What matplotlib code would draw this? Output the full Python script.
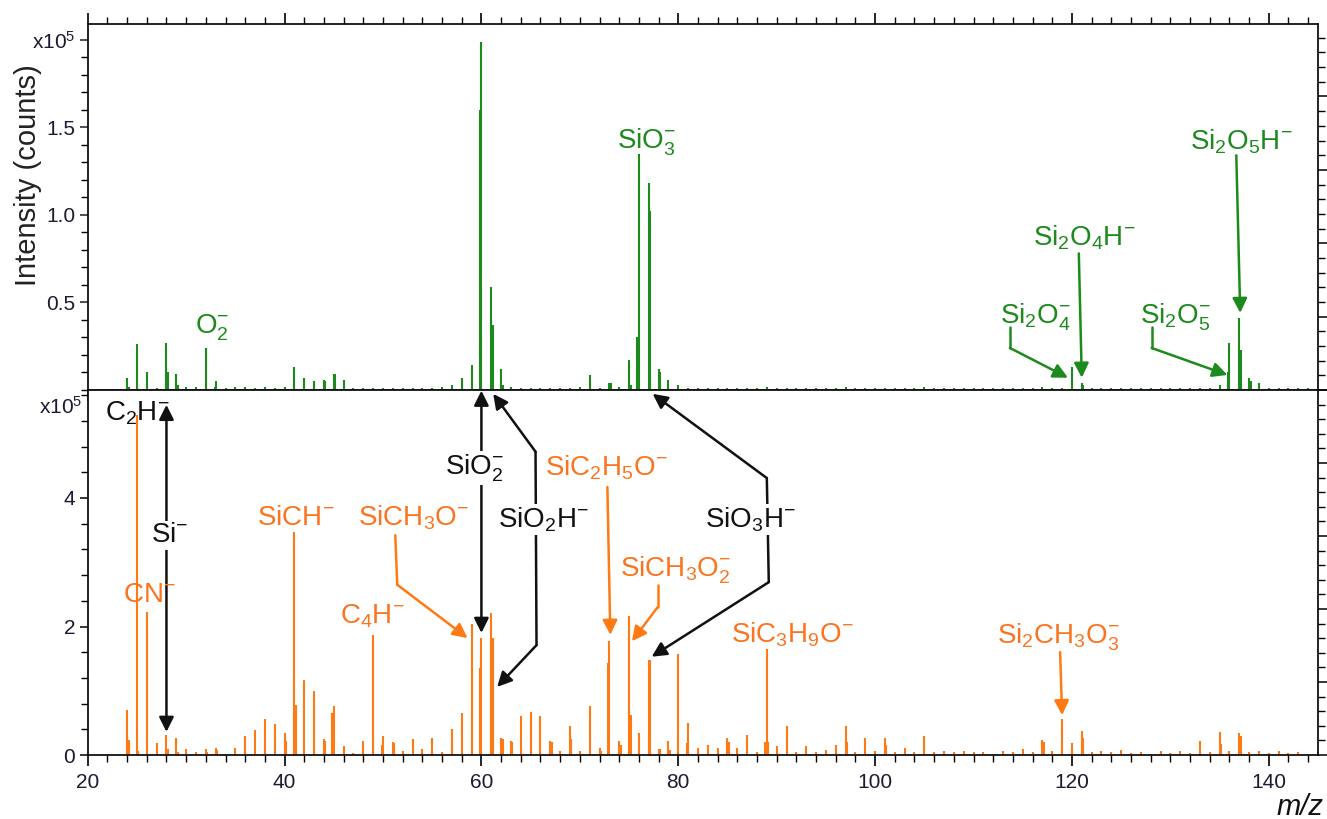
import matplotlib
matplotlib.use("Agg")
import matplotlib.pyplot as plt
from matplotlib.ticker import MultipleLocator, FixedLocator

plt.rcParams['font.family'] = ['Liberation Sans', 'DejaVu Sans']
plt.rcParams['mathtext.fontset'] = 'custom'
plt.rcParams['mathtext.rm'] = 'Liberation Sans'
plt.rcParams['mathtext.it'] = 'Liberation Sans:italic'
plt.rcParams['mathtext.bf'] = 'Liberation Sans:bold'

# ---------------- data (intensity in units of 1e5 counts) ----------------
top_mz = [24, 24.2, 25, 26, 27, 28, 28.15, 29, 29.15, 30, 31, 32, 32.9, 33, 34, 35, 36, 37, 38, 39, 40,
          41, 42, 43, 44, 44.15, 45, 45.15, 46, 47, 48, 49, 50, 51, 52, 53, 54, 55, 56, 57, 58, 59,
          59.85, 60, 61, 61.15, 62, 62.15, 63, 64, 65, 66, 67, 68, 69, 70, 71, 72, 73, 73.15, 74,
          75, 75.15, 75.85, 76, 77, 77.15, 78, 78.15, 79, 80,
          81, 82, 83, 84, 85, 86, 87, 88, 89, 90, 91, 92, 93, 94, 95, 96, 97, 98, 99, 100,
          101, 102, 103, 104, 105, 106, 107, 108, 109, 110, 111, 112, 113, 114, 115, 116, 117,
          118, 119, 120, 121, 121.15, 122, 123, 124, 125, 126, 127, 128, 129, 130, 131, 132, 133, 134,
          135, 135.85, 136, 137, 137.15, 138, 138.15, 139, 140, 141, 142, 143, 144]
top_int = [0.07, 0.02, 0.26, 0.10, 0.01, 0.27, 0.10, 0.09, 0.03, 0.02, 0.02, 0.24, 0.02, 0.05, 0.01, 0.02, 0.02, 0.01, 0.02, 0.01, 0.02,
           0.13, 0.07, 0.05, 0.06, 0.05, 0.09, 0.09, 0.06, 0.01, 0.01, 0.01, 0.01, 0.01, 0.01, 0.01, 0.01, 0.01, 0.02, 0.03, 0.07, 0.14,
           1.60, 1.99, 0.59, 0.37, 0.12, 0.03, 0.02, 0.01, 0.01, 0.01, 0.01, 0.01, 0.01, 0.02, 0.085, 0.01, 0.04, 0.04, 0.02,
           0.17, 0.03, 0.30, 1.35, 1.18, 1.02, 0.12, 0.10, 0.06, 0.03,
           0.01, 0.01, 0.01, 0.01, 0.01, 0.01, 0.01, 0.01, 0.015, 0.01, 0.01, 0.01, 0.01, 0.01, 0.01, 0.01, 0.015, 0.01, 0.01, 0.01,
           0.01, 0.01, 0.01, 0.01, 0.015, 0.01, 0.01, 0.01, 0.01, 0.01, 0.01, 0.01, 0.01, 0.01, 0.01, 0.01, 0.02,
           0.01, 0.01, 0.13, 0.04, 0.03, 0.01, 0.01, 0.01, 0.01, 0.01, 0.01, 0.01, 0.01, 0.01, 0.01, 0.01, 0.01, 0.01,
           0.03, 0.10, 0.27, 0.41, 0.23, 0.07, 0.05, 0.04, 0.01, 0.01, 0.01, 0.01, 0.01]

bot_mz = [24, 24.15, 25, 25.15, 26, 27, 28, 28.15, 29, 29.15, 30, 31, 32, 32.15, 33, 33.15, 34, 35, 36, 37, 38, 39,
          40, 40.15, 41, 41.15, 42, 43, 44, 44.15, 44.85, 45, 46, 47, 48, 49, 49.85, 50, 51, 51.15, 52, 53, 54, 55,
          56, 57, 58, 59, 59.85, 60, 61, 61.15, 62, 62.15, 63, 63.15, 64, 65, 66, 67, 67.15, 68, 69, 69.15, 70,
          71, 72, 72.15, 72.85, 73, 74, 74.15, 75, 75.15, 76, 77, 77.15, 78, 78.15, 79, 79.15, 80, 80.85, 81,
          82, 83, 84, 85, 85.15, 86, 87, 88, 88.85, 89, 89.15, 90, 91, 92, 93, 94, 95, 96, 97, 97.15, 98, 99,
          100, 101, 101.15, 102, 103, 104, 105, 106, 107, 108, 109, 110, 111, 112, 113, 114, 115, 116, 117, 117.15,
          118, 119, 120, 121, 121.15, 122, 123, 124, 125, 126, 127, 128, 129, 130, 131, 132, 133, 134, 135, 135.15,
          136, 137, 137.15, 138, 139, 140, 141, 142, 143, 145]
bot_int = [0.70, 0.23, 5.29, 0.06, 2.22, 0.18, 0.31, 0.10, 0.27, 0.05, 0.09, 0.05, 0.09, 0.05, 0.11, 0.08, 0.02, 0.11, 0.29, 0.39, 0.56, 0.49,
           0.34, 0.22, 3.47, 0.78, 1.17, 0.99, 0.25, 0.22, 0.65, 0.76, 0.14, 0.03, 0.22, 1.87, 0.15, 0.29, 0.20, 0.18, 0.06, 0.25, 0.09, 0.27,
           0.05, 0.40, 0.65, 2.04, 1.35, 1.82, 2.21, 1.82, 0.26, 0.25, 0.22, 0.20, 0.61, 0.67, 0.61, 0.22, 0.20, 0.07, 0.45, 0.25, 0.07,
           0.76, 0.11, 0.06, 1.43, 1.78, 0.22, 0.15, 2.16, 0.62, 0.34, 1.48, 1.48, 0.09, 0.09, 0.22, 0.08, 1.57, 0.18, 0.50,
           0.11, 0.15, 0.11, 0.27, 0.20, 0.11, 0.31, 0.05, 0.20, 1.65, 0.20, 0.14, 0.45, 0.05, 0.14, 0.04, 0.08, 0.15, 0.45, 0.20, 0.05, 0.27,
           0.07, 0.27, 0.15, 0.04, 0.11, 0.05, 0.29, 0.04, 0.07, 0.04, 0.06, 0.04, 0.05, 0.02, 0.07, 0.04, 0.09, 0.05, 0.24, 0.20,
           0.07, 0.56, 0.18, 0.38, 0.27, 0.05, 0.07, 0.04, 0.08, 0.03, 0.04, 0.02, 0.07, 0.03, 0.07, 0.03, 0.22, 0.05, 0.36, 0.17,
           0.07, 0.34, 0.30, 0.05, 0.07, 0.03, 0.06, 0.03, 0.04, 0.06]

x_ticks = [20, 40, 60, 80, 100, 120, 140]
top_yticks = [0.5, 1.0, 1.5, 2.0]
top_yticklabels = ['0.5', '1.0', '1.5', 'x10$^{5}$']
bot_yticks = [0, 2, 4]
bot_yticklabels = ['0', '2', '4']

GREEN = '#1d8a1d'
ORANGE = '#ff7a14'
TXT_OR = '#fb7420'
BLACK = '#111111'

# ---------------- figure ----------------
fig = plt.figure(figsize=(13.27, 8.19), dpi=100)
L, W = 0.0661, 0.9271
ax1 = fig.add_axes([L, 0.5238, W, 0.4469])
ax2 = fig.add_axes([L, 0.0781, W, 0.4457])

ax1.vlines(top_mz, 0, top_int, color=GREEN, lw=1.5)
ax2.vlines(bot_mz, 0, bot_int, color=ORANGE, lw=1.5)

for ax in (ax1, ax2):
    ax.set_xlim(20, 145)
    for s in ax.spines.values():
        s.set_linewidth(1.3)
        s.set_color('#111111')
    ax.xaxis.set_major_locator(FixedLocator(x_ticks))
    ax.xaxis.set_minor_locator(MultipleLocator(2))

ax1.set_ylim(0, 2.09)
ax2.set_ylim(0, 5.68)

ax1.set_yticks(top_yticks)
ax1.set_yticklabels(top_yticklabels)
ax1.yaxis.set_minor_locator(MultipleLocator(0.1))
ax1.tick_params(axis='x', which='both', top=True, bottom=True, direction='out', labelbottom=False)
ax1.tick_params(axis='x', which='major', length=8, width=1.2)
ax1.tick_params(axis='x', which='minor', length=5, width=1.0)
ax1.tick_params(axis='y', which='major', length=6, width=1.1, labelsize=15, pad=3, colors='#1b1b33')
ax1.tick_params(axis='y', which='minor', length=5, width=1.0)

ax2.set_yticks(bot_yticks)
ax2.set_yticklabels(bot_yticklabels)
ax2.yaxis.set_minor_locator(MultipleLocator(0.4))
ax2.tick_params(axis='x', which='both', top=False, bottom=True, direction='out')
ax2.tick_params(axis='x', which='major', length=8, width=1.2, labelsize=15, pad=5, labelcolor='#1b1b33')
ax2.tick_params(axis='x', which='minor', length=5, width=1.0)
ax2.tick_params(axis='y', which='major', length=6, width=1.1, labelsize=15, pad=3, labelcolor='#1b1b33')
ax2.tick_params(axis='y', which='minor', length=5, width=1.0)
ax2.text(-0.004, 5.42, 'x10$^{5}$', transform=ax2.get_yaxis_transform(), ha='right', va='center',
         fontsize=15, color='#1b1b33')

# right-hand tick rulers
for ax, lim, maj in ((ax1, 2.09, 0.419), (ax2, 5.68, 1.136)):
    tw = ax.twinx()
    tw.set_ylim(0, lim)
    tw.yaxis.set_major_locator(MultipleLocator(maj))
    tw.yaxis.set_minor_locator(MultipleLocator(maj / 5))
    tw.tick_params(axis='y', which='major', length=7, width=1.1, labelright=False)
    tw.tick_params(axis='y', which='minor', length=5, width=1.0)
    for s in tw.spines.values():
        s.set_visible(False)

fig.text(0.021, 1 - 175 / 819, 'Intensity (counts)', rotation=90, ha='center', va='center', fontsize=21,
         color='#222222')
fig.text(1300 / 1327, 1 - 807 / 819, 'm/z', ha='center', va='center', fontsize=21, style='italic',
         color='#111111')

FS = 20
WB = dict(fc='white', ec='none', pad=1.0)


def seg_arrow(ax, p_from, p_to, color):
    ax.annotate('', xy=p_to, xytext=p_from, annotation_clip=False,
                arrowprops=dict(arrowstyle='-|>', color=color, lw=1.8, mutation_scale=22,
                                shrinkA=0, shrinkB=0), zorder=4)


def path_arrow(ax, pts, color, both=False):
    xs = [p[0] for p in pts]
    ys = [p[1] for p in pts]
    i0 = 1 if both else 0
    ax.plot(xs[i0:-1], ys[i0:-1], color=color, lw=1.8, solid_capstyle='round', solid_joinstyle='round',
            zorder=4, clip_on=False)
    seg_arrow(ax, pts[-2], pts[-1], color)
    if both:
        seg_arrow(ax, pts[1], pts[0], color)


# ---- top panel labels ----
ax1.text(30.9, 0.354, 'O$_2^{-}$', color=GREEN, fontsize=FS, ha='left', va='center')
ax1.text(73.8, 1.417, 'SiO$_3^{-}$', color=GREEN, fontsize=FS, ha='left', va='center')
ax1.text(116.0, 0.869, 'Si$_2$O$_4$H$^{-}$', color=GREEN, fontsize=FS, ha='left', va='center')
path_arrow(ax1, [(120.7, 0.78), (121.0, 0.07)], GREEN)
ax1.text(132.0, 1.417, 'Si$_2$O$_5$H$^{-}$', color=GREEN, fontsize=FS, ha='left', va='center')
path_arrow(ax1, [(136.7, 1.34), (137.1, 0.44)], GREEN)
ax1.text(112.7, 0.417, 'Si$_2$O$_4^{-}$', color=GREEN, fontsize=FS, ha='left', va='center')
path_arrow(ax1, [(113.7, 0.36), (113.7, 0.24), (119.6, 0.07)], GREEN)
ax1.text(126.95, 0.417, 'Si$_2$O$_5^{-}$', color=GREEN, fontsize=FS, ha='left', va='center')
path_arrow(ax1, [(128.1, 0.36), (128.1, 0.24), (135.8, 0.086)], GREEN)

# ---- bottom panel labels ----
ax2.text(21.76, 5.32, 'C$_2$H$^{-}$', color=BLACK, fontsize=FS, ha='left', va='center', zorder=3)
ax2.annotate('', xy=(28, 5.45), xytext=(28, 0.36), annotation_clip=False,
             arrowprops=dict(arrowstyle='<|-|>', color=BLACK, lw=1.8, mutation_scale=22, shrinkA=0, shrinkB=0))
ax2.text(28.3, 3.42, 'Si$^{-}$', color=BLACK, fontsize=FS, ha='center', va='center', bbox=WB, zorder=5)
ax2.text(23.6, 2.49, 'CN$^{-}$', color=TXT_OR, fontsize=FS, ha='left', va='center')
ax2.text(37.2, 3.69, 'SiCH$^{-}$', color=TXT_OR, fontsize=FS, ha='left', va='center')
ax2.text(47.5, 3.69, 'SiCH$_3$O$^{-}$', color=TXT_OR, fontsize=FS, ha='left', va='center')
path_arrow(ax2, [(51.25, 3.42), (51.45, 2.65), (58.6, 1.82)], ORANGE)
ax2.text(45.6, 2.16, 'C$_4$H$^{-}$', color=TXT_OR, fontsize=FS, ha='left', va='center')

ax2.annotate('', xy=(60, 5.67), xytext=(60, 1.90), annotation_clip=False,
             arrowprops=dict(arrowstyle='<|-|>', color=BLACK, lw=1.8, mutation_scale=22, shrinkA=0, shrinkB=0))
ax2.text(56.3, 4.47, 'SiO$_2^{-}$', color=BLACK, fontsize=FS, ha='left', va='center', bbox=WB, zorder=5)

path_arrow(ax2, [(61.2, 5.62), (65.5, 4.72), (65.6, 1.71), (61.6, 1.06)], BLACK, both=True)
ax2.text(61.7, 3.66, 'SiO$_2$H$^{-}$', color=BLACK, fontsize=FS, ha='left', va='center', bbox=WB, zorder=5)

ax2.text(66.5, 4.47, 'SiC$_2$H$_5$O$^{-}$', color=TXT_OR, fontsize=FS, ha='left', va='center')
path_arrow(ax2, [(72.8, 4.17), (73.1, 1.87)], ORANGE)

ax2.text(74.1, 2.88, 'SiCH$_3$O$_2^{-}$', color=TXT_OR, fontsize=FS, ha='left', va='center')
path_arrow(ax2, [(77.9, 2.65), (77.9, 2.30), (75.3, 1.77)], ORANGE)

path_arrow(ax2, [(77.4, 5.62), (89.0, 4.31), (89.2, 2.69), (77.3, 1.53)], BLACK, both=True)
ax2.text(82.7, 3.66, 'SiO$_3$H$^{-}$', color=BLACK, fontsize=FS, ha='left', va='center', bbox=WB, zorder=5)

ax2.text(85.4, 1.87, 'SiC$_3$H$_9$O$^{-}$', color=TXT_OR, fontsize=FS, ha='left', va='center')

ax2.text(112.4, 1.84, 'Si$_2$CH$_3$O$_3^{-}$', color=TXT_OR, fontsize=FS, ha='left', va='center')
path_arrow(ax2, [(118.8, 1.60), (119.0, 0.62)], ORANGE)

fig.savefig('out.png', dpi=100)
